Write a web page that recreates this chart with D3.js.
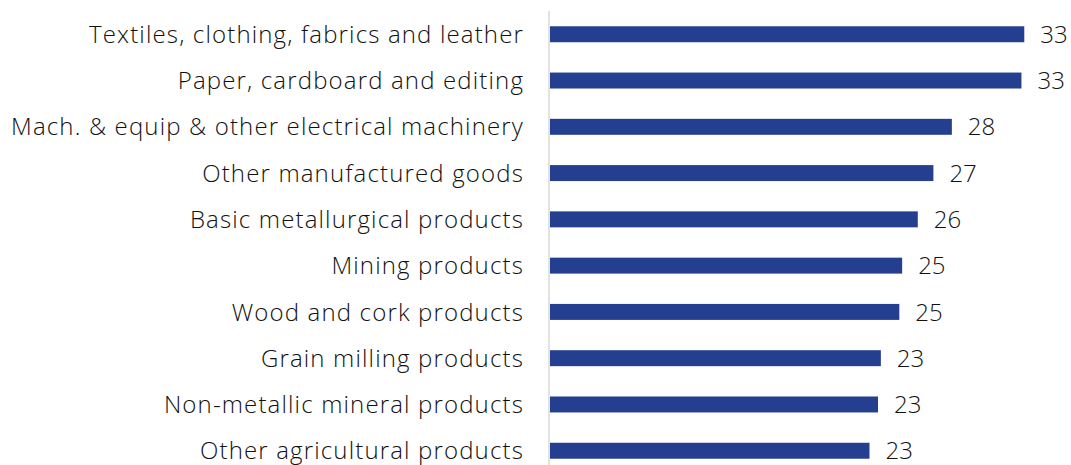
<!DOCTYPE html>
<html>
<head>
<meta charset="utf-8">
<script src="https://cdn.jsdelivr.net/npm/d3@7"></script>
<style>
  body { margin: 0; background: #fff; }
  text { font-family: "Open Sans", "Noto Sans", sans-serif; font-weight: 300; }
</style>
</head>
<body>
<div id="chart"></div>
<script>
// categories top to bottom
var categories = [
    'Textiles, clothing, fabrics and leather',
    'Paper, cardboard and editing',
    'Mach. & equip & other electrical machinery',
    'Other manufactured goods',
    'Basic metallurgical products',
    'Mining products',
    'Wood and cork products',
    'Grain milling products',
    'Non-metallic mineral products',
    'Other agricultural products'
];
var values = [33.4, 33.2, 28.3, 27.0, 25.9, 24.8, 24.6, 23.3, 23.1, 22.5];

var width = 1071, height = 465;

var svg = d3.select('#chart').append('svg')
    .attr('width', width)
    .attr('height', height);

var x = d3.scaleLinear().domain([0, 35]).range([550, 1047]);
var y = d3.scaleBand().domain(categories).range([11, 474]).paddingInner(0.655).paddingOuter(0.33);

// bars
svg.selectAll('rect.bar').data(values)
    .enter().append('rect')
    .attr('class', 'bar')
    .attr('x', x(0))
    .attr('y', function(d, i) { return y(categories[i]); })
    .attr('width', function(d) { return x(d) - x(0); })
    .attr('height', y.bandwidth())
    .attr('fill', '#243f8f');

// value labels
svg.selectAll('text.val').data(values)
    .enter().append('text')
    .attr('class', 'val')
    .attr('x', function(d) { return x(d) + 16; })
    .attr('y', function(d, i) { return y(categories[i]) + y.bandwidth() / 2; })
    .attr('dy', '0.36em')
    .attr('font-size', 24)
    .attr('fill', '#111')
    .text(function(d) { return d3.format('.0f')(d); });

// category axis
var yAxis = svg.append('g')
    .attr('transform', 'translate(' + 549 + ',0)')
    .call(d3.axisLeft(y).tickSize(0).tickPadding(25));

yAxis.select('.domain').remove();
yAxis.selectAll('text')
    .attr('font-size', 24)
    .attr('fill', '#111')
    .attr('letter-spacing', '1.15px')
    .attr('dy', '0.36em');

svg.append('line')
    .attr('x1', 549).attr('x2', 549)
    .attr('y1', 11).attr('y2', height)
    .attr('stroke', '#d9d9d9')
    .attr('stroke-width', 1.5);
</script>
</body>
</html>
